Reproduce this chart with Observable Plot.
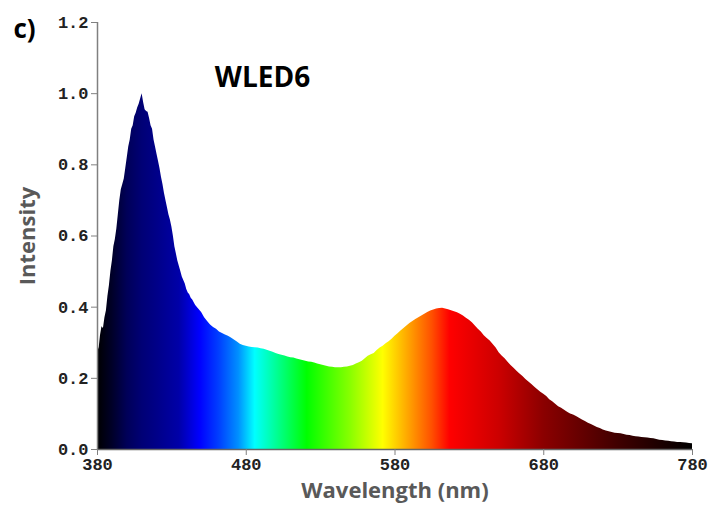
<!DOCTYPE html>
<html>
<head>
<meta charset="utf-8">
<script src="https://cdn.jsdelivr.net/npm/d3@7"></script>
<script src="https://cdn.jsdelivr.net/npm/@observablehq/plot@0.6"></script>
<style>
  html, body { margin: 0; padding: 0; background: #fff; }
</style>
</head>
<body>
<div id="chart"></div>
<script>
// Wavelength (nm) and relative intensity
const wavelengths = [
  380,381,382,383,384,385,386,387,388,389,390,391,392,393,394,395,396,397,398,399,
  400,401,402,403,404,405,406,407,408,409,410,411,412,413,414,415,416,417,418,419,
  420,421,422,423,424,425,426,427,428,429,430,431,432,433,434,435,436,437,438,439,
  440,441,442,443,444,446,448,450,452,454,456,458,460,462,464,466,468,470,472,474,
  476,478,480,482,484,486,488,490,492,494,496,498,500,502,504,506,508,510,512,514,
  516,518,520,522,524,526,528,530,532,534,536,538,540,542,544,546,548,550,552,554,
  556,558,560,562,564,566,568,570,572,574,576,578,580,582,584,586,588,590,592,594,
  596,598,600,602,604,606,608,610,612,614,616,618,620,622,624,626,628,630,632,634,
  636,638,640,642,644,646,648,650,652,654,656,658,660,662,664,666,668,670,672,674,
  676,678,680,682,684,686,688,690,692,694,696,698,700,702,704,706,708,710,712,714,
  716,718,720,722,724,726,728,730,732,734,736,738,740,742,744,746,748,750,752,754,
  756,758,760,762,764,766,768,770,772,774,776,778,780
];
const intensity = [
  0.30,0.28,0.32,0.345,0.34,0.37,0.39,0.43,0.46,0.50,0.53,0.57,0.59,0.62,0.66,0.70,0.73,0.745,0.76,0.79,
  0.82,0.85,0.87,0.90,0.91,0.935,0.945,0.96,0.97,0.985,1.0,0.975,0.955,0.95,0.948,0.93,0.91,0.90,0.87,0.85,
  0.83,0.81,0.79,0.765,0.745,0.72,0.70,0.68,0.66,0.645,0.625,0.60,0.57,0.55,0.53,0.515,0.50,0.485,0.475,0.465,
  0.45,0.44,0.435,0.425,0.42,0.405,0.395,0.385,0.37,0.36,0.35,0.343,0.338,0.33,0.326,0.322,0.318,0.313,0.308,0.302,
  0.296,0.292,0.29,0.288,0.287,0.286,0.285,0.283,0.282,0.279,0.276,0.273,0.27,0.267,0.265,0.263,0.26,0.258,0.257,0.254,
  0.252,0.25,0.248,0.246,0.245,0.243,0.24,0.238,0.236,0.234,0.232,0.231,0.23,0.23,0.23,0.231,0.232,0.234,0.236,0.24,
  0.244,0.248,0.255,0.262,0.266,0.27,0.278,0.285,0.29,0.297,0.303,0.31,0.318,0.325,0.333,0.34,0.347,0.354,0.36,0.365,
  0.37,0.375,0.38,0.385,0.389,0.392,0.395,0.396,0.397,0.395,0.393,0.39,0.387,0.384,0.38,0.375,0.369,0.363,0.356,0.347,
  0.338,0.33,0.32,0.312,0.305,0.295,0.285,0.272,0.263,0.255,0.245,0.236,0.228,0.22,0.212,0.205,0.197,0.19,0.183,0.175,
  0.168,0.161,0.155,0.149,0.14,0.134,0.127,0.12,0.116,0.11,0.105,0.10,0.097,0.093,0.088,0.083,0.079,0.074,0.07,0.066,
  0.062,0.059,0.055,0.052,0.05,0.048,0.046,0.045,0.044,0.042,0.04,0.039,0.037,0.036,0.035,0.034,0.033,0.032,0.031,0.03,
  0.028,0.026,0.025,0.024,0.023,0.022,0.021,0.02,0.02,0.019,0.018,0.017,0.016
];
// Spectrum colour stops (wavelength -> colour)
const stopWavelengths = [380,390,400,410,420,435,449,462,475,486,500,521,550,572,590,605,617,650,680,730,780];
const stopColors = ["#000000","#000028","#000058","#000075","#000088","#0000a8","#0000ff","#0040ff","#0090ff","#00ffff","#00ff99",
                    "#00ff00","#88ff00","#ffff00","#ffa000","#ff5000","#ff0000","#cc0000","#8b0000","#400000","#000000"];
const xTicks = [380, 480, 580, 680, 780];
const yTicks = [0, 0.2, 0.4, 0.6, 0.8, 1.0, 1.2];

const data = wavelengths.map((w, i) => ({w, v: intensity[i]}));
const monoFont = "'Liberation Mono', 'DejaVu Sans Mono', monospace";
const sansFont = "'Open Sans', 'Noto Sans', sans-serif";

const plot = Plot.plot({
  width: 710,
  height: 512,
  marginLeft: 97,
  marginRight: 18,
  marginTop: 22,
  marginBottom: 63,
  style: {background: "#fff", overflow: "visible"},
  x: {domain: [380, 780]},
  y: {domain: [0, 1.2]},
  marks: [
    Plot.areaY(data, {x: "w", y: "v", fill: "url(#spectrum)", curve: "linear"}),
    Plot.ruleX([380], {stroke: "#808080", strokeWidth: 1.5}),
    Plot.ruleY([0], {stroke: "#666", strokeWidth: 1.5}),
    Plot.axisY({ticks: yTicks, tickFormat: d3.format(".1f"), tickSize: 6, tickPadding: 3, stroke: "#808080",
      fontFamily: monoFont, fontWeight: "bold", fontSize: 17, letterSpacing: 2, fill: "#222", label: null}),
    Plot.axisX({ticks: xTicks, tickFormat: d => String(d), tickSize: 6, tickPadding: 2, stroke: "#808080",
      fontFamily: monoFont, fontWeight: "bold", fontSize: 17, letterSpacing: 2, fill: "#222", label: null}),
    Plot.text(["Intensity"], {frameAnchor: "left", dx: -70, rotate: -90, textAnchor: "middle", lineAnchor: "middle",
      fontFamily: sansFont, fontWeight: "bold", fontSize: 22, fill: "#595959"}),
    Plot.text(["Wavelength (nm)"], {frameAnchor: "bottom", dy: 41, textAnchor: "middle", lineAnchor: "middle",
      fontFamily: sansFont, fontWeight: "bold", fontSize: 22, fill: "#595959"}),
    Plot.text(["WLED6"], {frameAnchor: "top-left", dx: 165, dy: 56, textAnchor: "middle", lineAnchor: "middle",
      fontFamily: sansFont, fontWeight: "bold", fontSize: 28, fill: "#000"}),
    Plot.text(["c)"], {frameAnchor: "top-left", dx: -73, dy: 7, textAnchor: "middle", lineAnchor: "middle",
      fontFamily: sansFont, fontWeight: "bold", fontSize: 26, fill: "#000"})
  ]
});

const xs = plot.scale("x");
const defs = d3.select(plot).insert("defs", ":first-child");
const grad = defs.append("linearGradient")
  .attr("id", "spectrum")
  .attr("gradientUnits", "userSpaceOnUse")
  .attr("x1", xs.apply(380)).attr("x2", xs.apply(780))
  .attr("y1", 0).attr("y2", 0);
stopWavelengths.forEach((w, i) => {
  grad.append("stop")
    .attr("offset", (w - 380) / 400)
    .attr("stop-color", stopColors[i]);
});

document.getElementById("chart").appendChild(plot);
</script>
</body>
</html>
